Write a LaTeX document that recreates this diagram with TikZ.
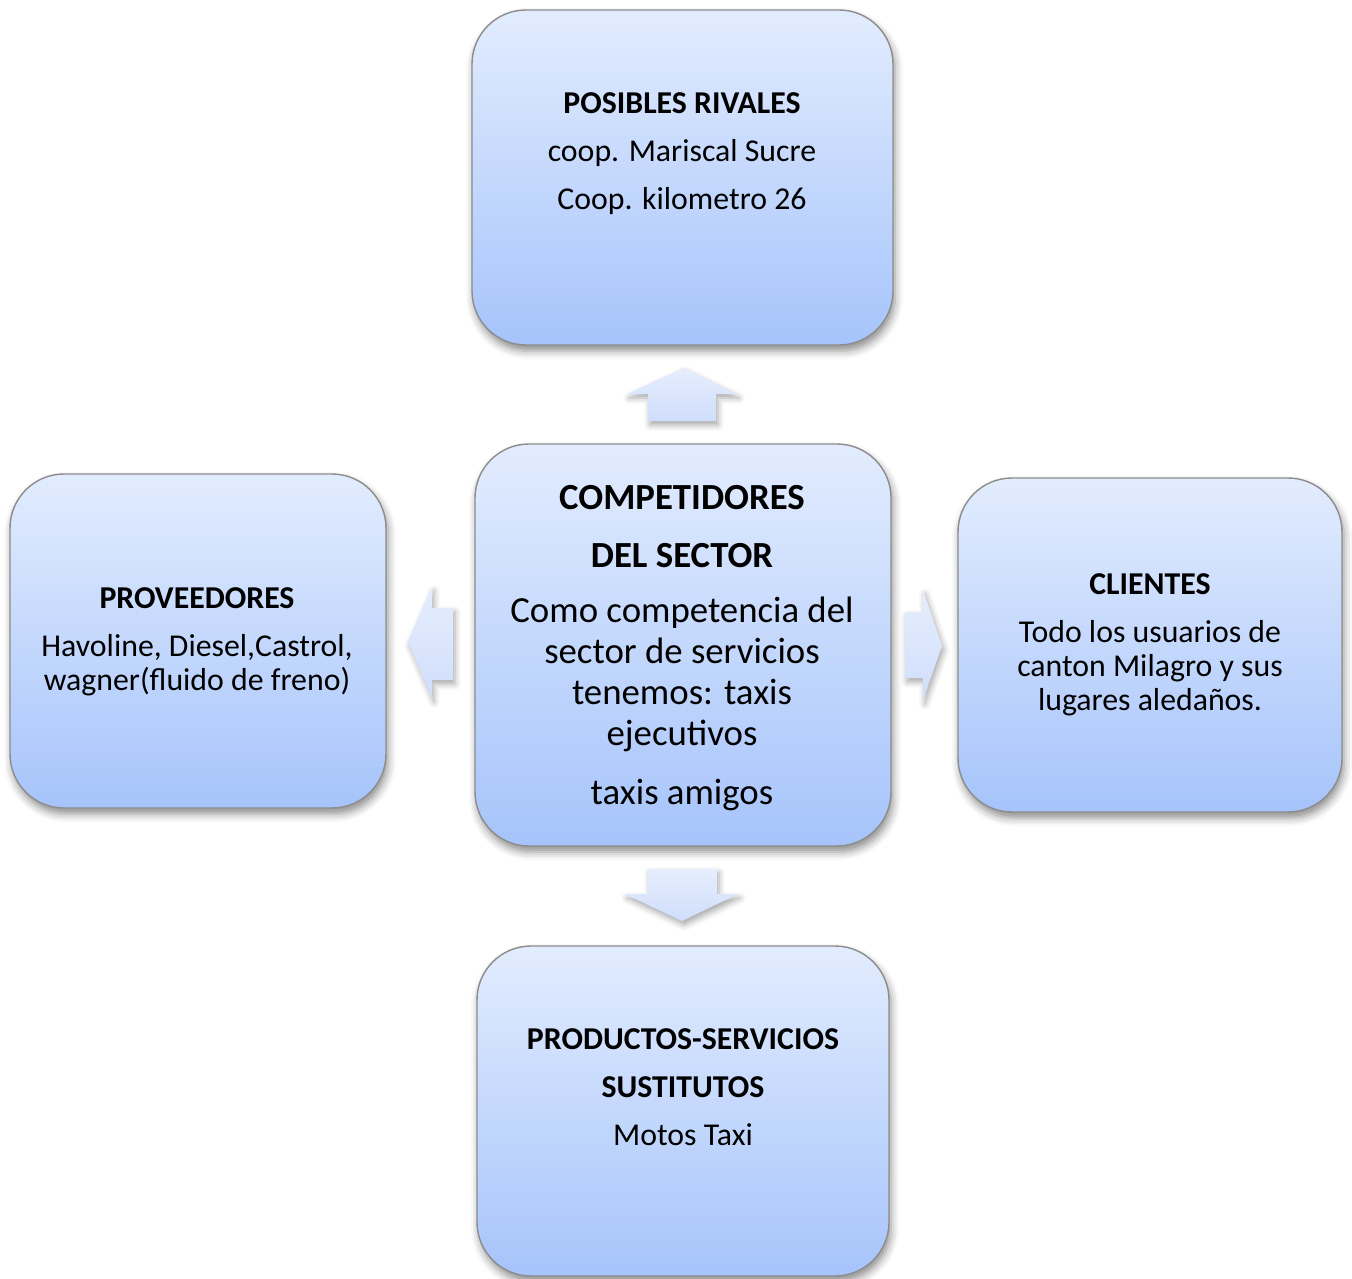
\documentclass[tikz,border=0pt]{standalone}
\usepackage{fontspec}
\setmainfont{Carlito}
\usetikzlibrary{shadows.blur}

\definecolor{cajaArriba}{HTML}{E2ECFE}
\definecolor{cajaAbajo}{HTML}{A6C4FB}
\definecolor{flechaClaro}{HTML}{E6EEFD}
\definecolor{flechaOscuro}{HTML}{D0DEFC}

\tikzset{
	caja/.style={draw=black!45, line width=0.7pt, rounded corners=27pt,
		top color=cajaArriba, bottom color=cajaAbajo, inner sep=0pt,
		blur shadow={shadow xshift=1pt, shadow yshift=-3pt, shadow blur radius=4pt, shadow opacity=45}},
	flecha/.style={top color=flechaClaro, bottom color=flechaOscuro,
		blur shadow={shadow xshift=1pt, shadow yshift=-2pt, shadow blur radius=3pt, shadow opacity=35}},
	texto/.style={align=center, inner sep=0pt, anchor=north, font=\fontsize{15.9}{17}\selectfont},
	textoG/.style={texto, font=\fontsize{18.4}{20.5}\selectfont},
}

\begin{document}
\begin{tikzpicture}[x=0.5pt, y=-0.5pt]
	\useasboundingbox (0,0) rectangle (1352,1278);
	
	%Cajas
	\node[caja, minimum width=210.5pt, minimum height=167.5pt] (rivales) at (682.5,177.5) {};
	\node[caja, minimum width=208pt, minimum height=201pt] (sector) at (683,645) {};
	\node[caja, minimum width=188pt, minimum height=167pt] (proveedores) at (198,641) {};
	\node[caja, minimum width=192pt, minimum height=167pt] (clientes) at (1150,645) {};
	\node[caja, minimum width=206pt, minimum height=165pt] (sustitutos) at (683,1111) {};
	
	%Flechas
	\path[flecha] (648,421) -- (648,394) -- (627,394) -- (683,368) -- (737,394) -- (716,394) -- (716,421) -- cycle;
	\path[flecha] (648,869) -- (717,869) -- (717,894) -- (738,894) -- (682,921) -- (625,894) -- (648,894) -- cycle;
	\path[flecha] (453,608) -- (432,608) -- (432,587) -- (408,642) -- (432,698) -- (432,680) -- (453,680) -- cycle;
	\path[flecha] (905,612) -- (923,612) -- (923,590) -- (942,646) -- (923,700) -- (923,678) -- (905,678) -- cycle;
	
	%Textos
	\node[texto] (rivalesT) at (682,92) {\textbf{POSIBLES RIVALES}\\[7pt] coop. Mariscal Sucre\\[7pt] Coop. kilometro 26};
	\node[textoG] (sectorT) at (682,485) {\textbf{COMPETIDORES}\\[8.5pt] \textbf{DEL SECTOR}\\[7pt]
		Como competencia del\\ sector de servicios\\ tenemos: taxis\\ ejecutivos\\[9pt] taxis amigos};
	\node[texto] (proveedoresT) at (197,587) {\textbf{PROVEEDORES}\\[7pt] Havoline, Diesel,Castrol,\\ wagner(fluido de freno)};
	\node[texto] (clientesT) at (1150,573) {\textbf{CLIENTES}\\[7pt] Todo los usuarios de\\ canton Milagro y sus\\ lugares aledaños.};
	\node[texto] (sustitutosT) at (683,1028) {\textbf{PRODUCTOS-SERVICIOS}\\[7pt] \textbf{SUSTITUTOS}\\[7pt] Motos Taxi};
\end{tikzpicture}
\end{document}
